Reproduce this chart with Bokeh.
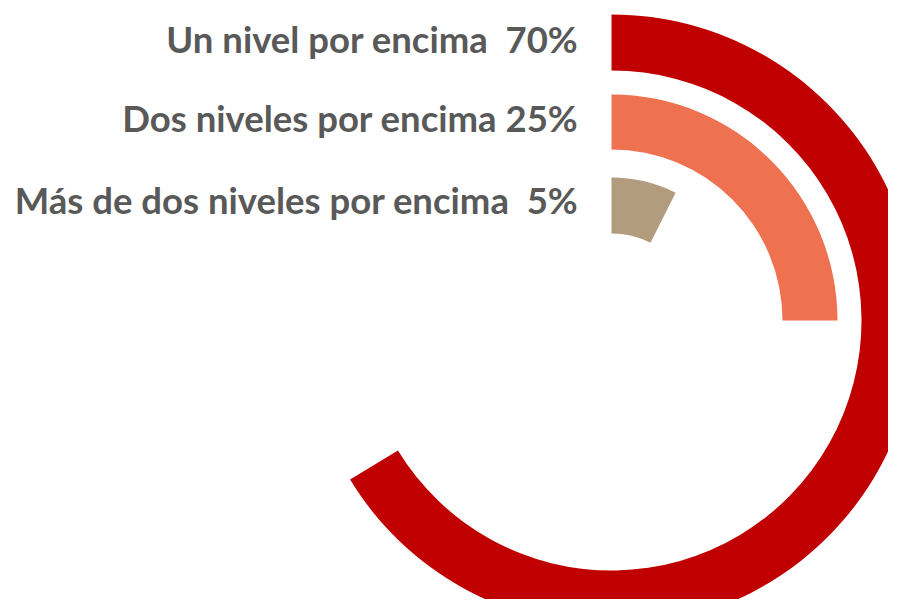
import math
from bokeh.plotting import figure
from bokeh.models import Range1d, ColumnDataSource
from bokeh.core.properties import value
from bokeh.embed import file_html
from bokeh.resources import INLINE

# ---- data ----
categories = ["Un nivel por encima", "Dos niveles por encima", "Más de dos niveles por encima"]
pct_labels = ["70%", "25%", "5%"]
separators = ["\u00a0\u00a0", " ", "\u00a0\u00a0"]
# arc extent as drawn in the picture (share of a full turn, %)
arc_extent = [66.3, 25.0, 7.4]
colors = ["#C00000", "#EE7150", "#B19C7D"]

# ---- layout (page pixels, y measured upward) ----
W, H = 888, 599
PAGE_H = 615
cx, cy = 611, PAGE_H - 320
outer_r = [306, 226, 143]
inner_r = [250, 171, 87]

start = [math.pi / 2] * 3
end = [math.pi / 2 - 2 * math.pi * v / 100.0 for v in arc_extent]

src = ColumnDataSource(dict(
    x=[cx] * 3, y=[cy] * 3, ir=inner_r, orr=outer_r,
    start=start, end=end, color=colors,
))

p = figure(width=W, height=H, output_backend="svg", toolbar_location=None,
           x_range=Range1d(0, W), y_range=Range1d(PAGE_H - H, PAGE_H),
           min_border=0)
p.axis.visible = False
p.grid.visible = False
p.outline_line_color = None
p.background_fill_color = "white"

p.annular_wedge(x="x", y="y", inner_radius="ir", outer_radius="orr",
                start_angle="start", end_angle="end", direction="clock",
                fill_color="color", line_color=None, source=src)

label_text = [c + sep + s for c, sep, s in zip(categories, separators, pct_labels)]
text_y = [PAGE_H - 38, PAGE_H - 117, PAGE_H - 199]
text_src = ColumnDataSource(dict(x=[578] * 3, y=text_y, t=label_text))
p.text(x="x", y="y", text="t", source=text_src, text_align="right",
       text_baseline="alphabetic", text_font=value("Lato"),
       text_font_style="bold", text_font_size="36.5px", text_color="#595959")

open("out.html", "w").write(file_html(p, INLINE))
